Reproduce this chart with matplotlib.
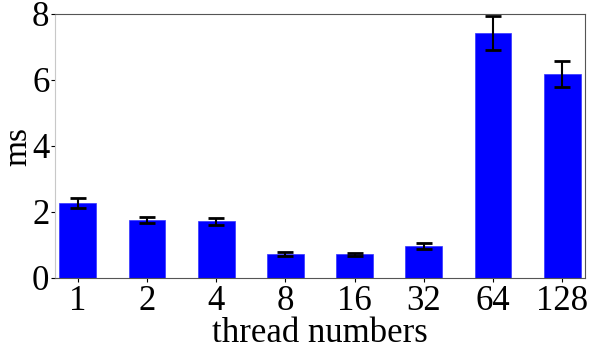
import matplotlib
matplotlib.use("Agg")
import matplotlib.pyplot as plt
import numpy as np

categories = ["1", "2", "4", "8", "16", "32", "64", "128"]
values = [2.27, 1.76, 1.72, 0.73, 0.72, 0.98, 7.42, 6.18]
errors = [0.15, 0.10, 0.10, 0.05, 0.05, 0.09, 0.51, 0.39]

plt.rcParams['font.family'] = ['Liberation Serif', 'DejaVu Serif']
fig = plt.figure(figsize=(5.9, 3.49), dpi=100)
ax = fig.add_axes([55/590, 1 - 278/349, 530/590, 264/349])
x = np.arange(len(categories))
ax.bar(x, values, width=0.53, color='#0000ff', edgecolor='#3333ff', linewidth=0.5,
       yerr=errors, capsize=6, error_kw=dict(ecolor='black', elinewidth=1.5, capthick=2))
ax.set_xlim(-0.33, 7.33)
ax.set_ylim(0, 8)
ax.set_yticks([0, 2, 4, 6, 8])
ax.set_xticks(x)
ax.set_xticklabels(categories)
ax.tick_params(labelsize=25, length=3, pad=2)
ax.tick_params(axis='y', pad=1)
ax.set_ylabel("ms", fontsize=24, labelpad=-1)
ax.set_xlabel("thread numbers", fontsize=25, labelpad=-1)
ax.spines['left'].set_color('#c8c8c8')
for s in ['top', 'right', 'bottom']:
    ax.spines[s].set_color('#555555')
fig.savefig("out.png", dpi=100)
